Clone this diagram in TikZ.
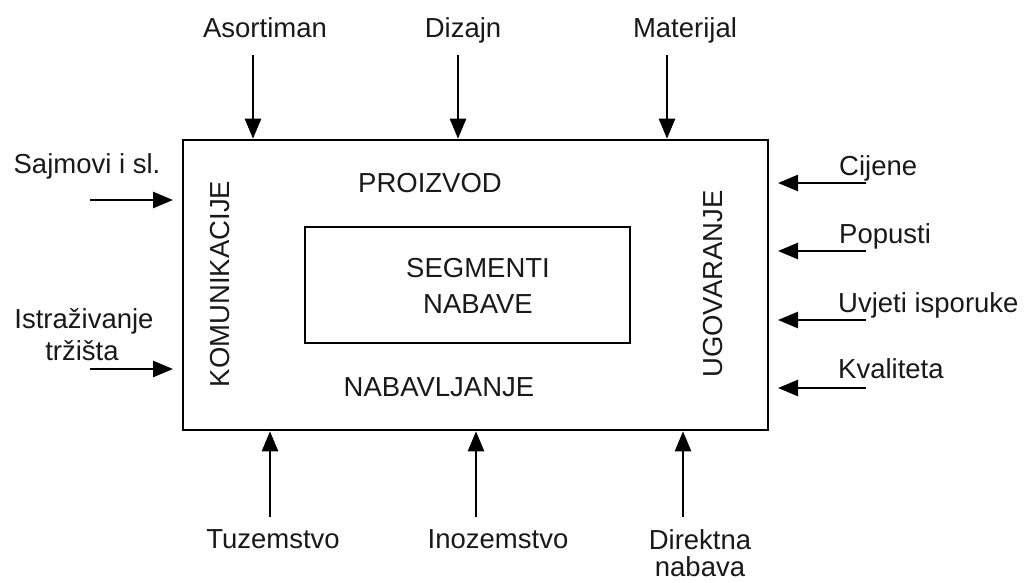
\documentclass[tikz,border=0pt]{standalone}
\usepackage{fontspec}
\setmainfont{Liberation Sans}
\usetikzlibrary{arrows.meta}
\begin{document}
\begin{tikzpicture}[x=1pt,y=-1pt,
  lbl/.style={font=\fontsize{27.5}{33}\selectfont, inner sep=0pt, text=black!90},
  box/.style={draw, line width=2.6pt, inner sep=0pt},
  arr/.style={line width=2.6pt, -{Triangle[length=20pt,width=16pt]}}]
\useasboundingbox (0,0) rectangle (1029,582);
% boxes
\node[box, minimum width=585pt, minimum height=290pt] (outer) at (475.5,285) {};
\node[box, minimum width=325pt, minimum height=116pt] (inner) at (467.5,285) {};
% inner texts
\node[lbl, anchor=base] (proiz) at (430,192) {PROIZVOD};
\node[lbl, anchor=base] (segA) at (478,277) {SEGMENTI};
\node[lbl, anchor=base] (segB) at (478,313) {NABAVE};
\node[lbl, anchor=base] (nabl) at (439,396) {NABAVLJANJE};
\node[lbl, rotate=90] (komu) at (220,284) {KOMUNIKACIJE};
\node[lbl, rotate=90] (ugov) at (713,284) {UGOVARANJE};
% top labels and arrows
\node[lbl, anchor=base] (asoL) at (265,37) {Asortiman};
\node[lbl, anchor=base] (dizL) at (463,37) {Dizajn};
\node[lbl, anchor=base] (matL) at (685,37) {Materijal};
\coordinate (aso0) at (253,55);
\coordinate (diz0) at (458,55);
\coordinate (mat0) at (667,55);
\draw[arr] (aso0) -- (aso0 |- outer.north);
\draw[arr] (diz0) -- (diz0 |- outer.north);
\draw[arr] (mat0) -- (mat0 |- outer.north);
% left labels and arrows
\node[lbl, anchor=base] (sajL) at (87,173) {Sajmovi i sl.};
\node[lbl, anchor=base] (istA) at (84,328) {Istraživanje};
\node[lbl, anchor=base] (istB) at (82,360) {tržišta};
\coordinate (saj0) at (90,200);
\coordinate (saj1) at (173,200);
\coordinate (ist0) at (90,369);
\coordinate (ist1) at (173,369);
\draw[arr] (saj0) -- (saj1);
\draw[arr] (ist0) -- (ist1);
% right labels and arrows
\node[lbl, anchor=base west] (cijL) at (839,175) {Cijene};
\node[lbl, anchor=base west] (popL) at (839,243) {Popusti};
\node[lbl, anchor=base west] (uvjL) at (838,312) {Uvjeti isporuke};
\node[lbl, anchor=base west] (kvaL) at (838,378) {Kvaliteta};
\coordinate (cij0) at (866,183);
\coordinate (cij1) at (778,183);
\coordinate (pop0) at (866,251);
\coordinate (pop1) at (778,251);
\coordinate (uvj0) at (866,320);
\coordinate (uvj1) at (778,320);
\coordinate (kva0) at (866,388);
\coordinate (kva1) at (778,388);
\draw[arr] (cij0) -- (cij1);
\draw[arr] (pop0) -- (pop1);
\draw[arr] (uvj0) -- (uvj1);
\draw[arr] (kva0) -- (kva1);
% bottom labels and arrows
\node[lbl, anchor=base] (tuzL) at (273,548) {Tuzemstvo};
\node[lbl, anchor=base] (inoL) at (498,548) {Inozemstvo};
\node[lbl, anchor=base] (dirA) at (700,549) {Direktna};
\node[lbl, anchor=base] (dirB) at (700,576) {nabava};
\coordinate (tuz0) at (270,517);
\coordinate (ino0) at (476,517);
\coordinate (dir0) at (683,517);
\draw[arr] (tuz0) -- (tuz0 |- outer.south);
\draw[arr] (ino0) -- (ino0 |- outer.south);
\draw[arr] (dir0) -- (dir0 |- outer.south);
\end{tikzpicture}
\end{document}
